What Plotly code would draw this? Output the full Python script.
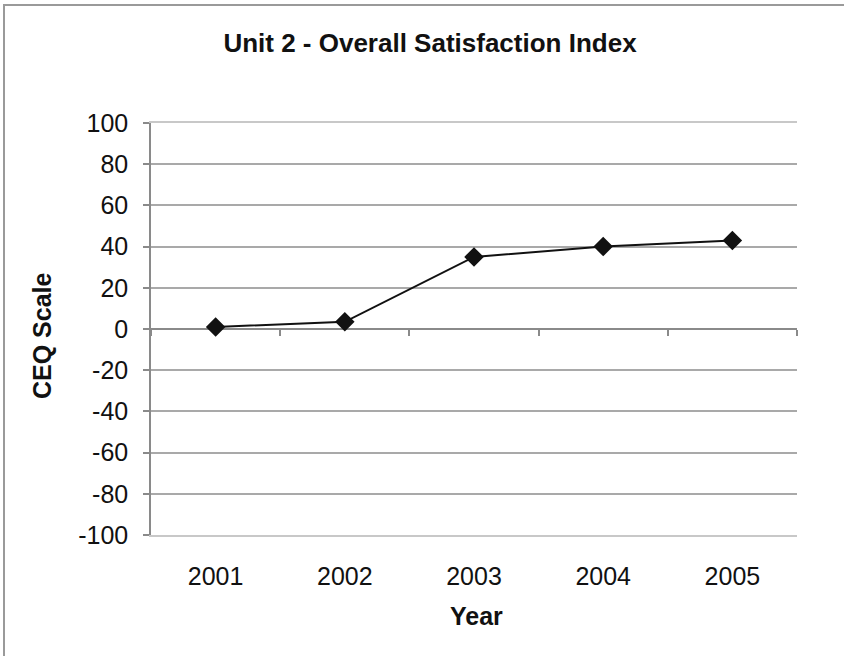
import plotly.graph_objects as go

# Overall satisfaction index per year (CEQ scale)
years = ["2001", "2002", "2003", "2004", "2005"]
satisfaction = [1, 3.5, 35, 40, 43]
y_ticks = [100, 80, 60, 40, 20, 0, -20, -40, -60, -80, -100]
y_tick_text = [str(v) for v in y_ticks]

FONT = "Liberation Sans, Arial, sans-serif"
GRID = "#a9a9a9"
AXIS = "#8a8a8a"

fig = go.Figure()
fig.add_trace(go.Scatter(
    x=years, y=satisfaction, mode="lines+markers",
    line=dict(color="#111111", width=2),
    marker=dict(symbol="diamond", size=15, color="#111111"),
    showlegend=False, cliponaxis=False,
))

fig.update_layout(
    width=844, height=656,
    margin=dict(l=151, r=47, t=123, b=121),
    paper_bgcolor="white", plot_bgcolor="white",
    font=dict(family=FONT, color="#111111"),
    title=dict(text="<b>Unit 2 - Overall Satisfaction Index</b>",
               x=430 / 844, xanchor="center", xref="container",
               y=1 - 43 / 656, yanchor="middle",
               font=dict(size=26, family=FONT, color="#111111")),
    xaxis=dict(type="category", categoryorder="array", categoryarray=years,
               range=[-0.5, 4.5], showgrid=False, zeroline=False,
               showline=True, linecolor="#c8c8c8", linewidth=1.5, mirror=True,
               ticks="", ticklabelstandoff=18,
               tickfont=dict(size=25, family=FONT, color="#111111")),
    # minor axis sitting on the zero line, carrying the category boundary ticks
    xaxis2=dict(type="category", categoryarray=years, matches="x",
                overlaying="x", anchor="free", position=0.5,
                showgrid=False, zeroline=False, showline=False,
                ticks="outside", tickson="boundaries", ticklen=6,
                tickcolor=AXIS, tickwidth=1.5, showticklabels=False),
    yaxis=dict(range=[-100, 100], tickvals=y_ticks, ticktext=y_tick_text,
               showgrid=True, gridcolor=GRID, gridwidth=1.5,
               zeroline=True, zerolinecolor=AXIS, zerolinewidth=2,
               showline=True, linecolor=AXIS, linewidth=1.5,
               ticks="outside", ticklen=6, tickcolor=AXIS, tickwidth=1.5,
               ticklabelstandoff=10,
               tickfont=dict(size=25, family=FONT, color="#111111")),
)

# invisible helper trace so the zero-line axis is rendered
fig.add_trace(go.Scatter(x=years, y=[None] * len(years), xaxis="x2",
                         mode="lines", showlegend=False, hoverinfo="skip"))

fig.add_annotation(text="<b>CEQ Scale</b>", xref="paper", yref="paper",
                   x=(42 - 151) / 646, y=(535 - 336) / 412, textangle=-90,
                   xanchor="center", yanchor="middle",
                   showarrow=False, font=dict(size=25, family=FONT, color="#111111"))
fig.add_annotation(text="<b>Year</b>", xref="paper", yref="paper",
                   x=(476 - 151) / 646, y=(535 - 616) / 412,
                   xanchor="center", yanchor="middle",
                   showarrow=False, font=dict(size=25, family=FONT, color="#111111"))

# outer chart frame: left and top edges
fx0, fx1 = (4 - 151) / 646, (870 - 151) / 646
fy0, fy1 = (535 - 680) / 412, (535 - 5) / 412
fig.add_shape(type="path", xref="paper", yref="paper",
              path=f"M {fx0},{fy0} L {fx0},{fy1} L {fx1},{fy1}",
              line=dict(color="#9a9a9a", width=2), layer="below")

fig.write_html("out.html")
